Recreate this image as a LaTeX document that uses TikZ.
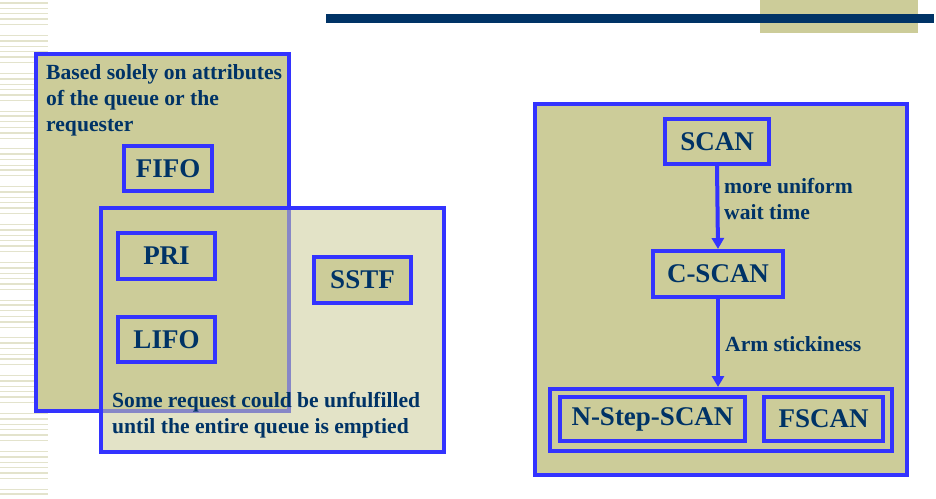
\documentclass[tikz,border=0pt]{standalone}
\usepackage{fontspec}
\setmainfont{Liberation Serif}
\usetikzlibrary{arrows.meta}
\definecolor{khaki}{HTML}{CCCC99}
\definecolor{boxblue}{HTML}{3333FF}
\definecolor{navy}{HTML}{003366}
\definecolor{stripe}{HTML}{E3E3CC}
\begin{document}
\begin{tikzpicture}[x=1pt,y=-1pt,
  lbl/.style={draw=boxblue,line width=4pt,fill=khaki,text=navy,
    font=\bfseries\fontsize{27}{30}\selectfont,inner sep=0pt},
  region/.style={draw=boxblue,line width=4pt,inner sep=0pt},
  note/.style={text=navy,font=\bfseries\fontsize{21.6}{26}\selectfont,
    align=left,anchor=north west,inner sep=0pt},
  flow/.style={draw=boxblue,line width=4pt,-{Triangle[length=11pt,width=12pt]}}]
\useasboundingbox (0,0) rectangle (936,498);
% striped margin
\foreach \i in {0,...,91} {
  \pgfmathtruncatemacro\m{mod(\i,7)}
  \ifnum\m=5 \else
    \pgfmathsetmacro\w{(\m==0 || \m==3) ? 2 : 1}
    \draw[stripe, line width=\w pt] (0,3+5.4*\i) -- (48,3+5.4*\i);
  \fi
}
% title decoration
\fill[khaki] (760,0) rectangle (918,33);
\fill[navy] (326,13.5) rectangle (934,22.5);
% left group
\node[region, fill=khaki, minimum width=253pt, minimum height=357pt] (attrbox) at (162,232) {};
\node[region, fill=khaki, fill opacity=0.55, minimum width=343pt, minimum height=244pt] (unfbox) at (272.5,330) {};
\node[note] (attrtxt) at (46,64) {Based solely on attributes\\of the queue or the\\requester};
\node[lbl, minimum width=88pt, minimum height=45pt] (fifo) at (168,168.5) {FIFO};
\node[lbl, minimum width=97pt, minimum height=46pt] (pri) at (166.5,256) {PRI};
\node[lbl, minimum width=97pt, minimum height=45pt] (lifo) at (166.5,339.5) {LIFO};
\node[lbl, minimum width=97pt, minimum height=46pt] (sstf) at (362.5,280) {SSTF};
\node[note] (unftxt) at (112,392) {Some request could be unfulfilled\\until the entire queue is emptied};
% right group
\node[region, fill=khaki, minimum width=372pt, minimum height=371pt] (scanbox) at (721,289.5) {};
\node[lbl, minimum width=104pt, minimum height=45pt] (scan) at (717,141.5) {SCAN};
\node[lbl, minimum width=130pt, minimum height=46pt] (cscan) at (718,274) {C-SCAN};
\node[region, minimum width=342pt, minimum height=62pt] (grp) at (721,420) {};
\node[lbl, minimum width=185pt, minimum height=44pt] (nstep) at (652.5,419) {N-Step-SCAN};
\node[lbl, minimum width=119pt, minimum height=44pt] (fscan) at (823.5,419) {FSCAN};
\draw[flow] (scan.south) -- (cscan.north);
\draw[flow] (cscan.south) -- (cscan.south |- grp.north);
\node[note] (uniftxt) at (724,178) {more uniform\\wait time};
\node[note] (armtxt) at (725,336) {Arm stickiness};
\end{tikzpicture}
\end{document}
